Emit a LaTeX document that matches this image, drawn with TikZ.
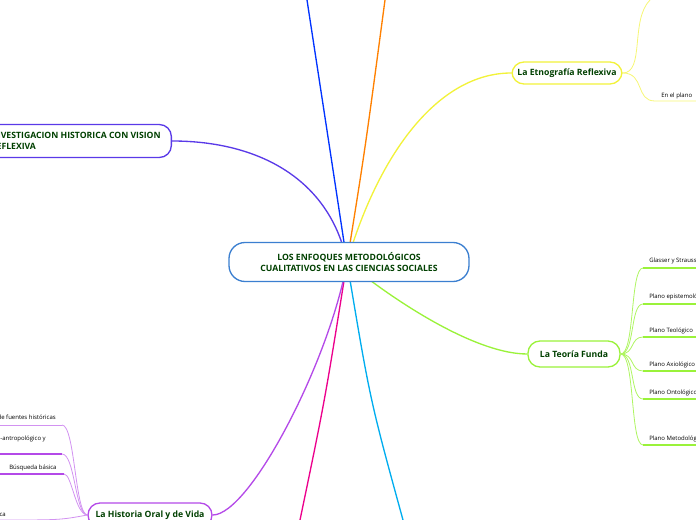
\documentclass[tikz,border=0pt]{standalone}
\usepackage{fontspec}
\setmainfont{Open Sans}
\begin{document}
\begin{tikzpicture}[x=0.75pt,y=-0.75pt,
 topic/.style={draw,rounded corners=9pt,line width=1pt,fill=white,text=green!25!black,font=\bfseries\fontsize{6.5}{8}\selectfont,align=left,inner sep=4pt},
 sub/.style={font=\fontsize{4.5}{5}\selectfont,anchor=base west,inner sep=0pt}]
\useasboundingbox (0,0) rectangle (696,520);
\clip (0,0) rectangle (696,520);
\definecolor{cblue}{HTML}{3B7FD0}
\definecolor{cyel}{HTML}{F2F23A}
\definecolor{cgrn}{HTML}{9AF23A}
\definecolor{cvio}{HTML}{B44AE8}
\definecolor{cind}{HTML}{5A3AE8}
\coordinate (c) at (347,262);
\coordinate (t1) at (307,0);
\coordinate (t2) at (385,0);
\coordinate (b1) at (300,520);
\coordinate (b2) at (403,520);
\draw[blue!80!cyan,line width=1pt] (c) .. controls (330,150) .. (t1);
\draw[orange,line width=1pt] (c) .. controls (365,150) .. (t2);
\draw[magenta,line width=1pt] (c) .. controls (325,400) .. (b1);
\draw[cyan,line width=1pt] (c) .. controls (370,400) .. (b2);
% Etnografia
\node[topic,draw=cyel,minimum width=110pt*0.75,minimum height=22pt*0.75] (etn) at (567,73) {La Etnografía Reflexiva};
\draw[cyel,line width=1pt] (c) .. controls (380,150) and (440,73) .. (etn.west);
\coordinate (e1) at (650,0);
\coordinate (e2) at (655,101);
\coordinate (e3) at (696,101);
\draw[cyel!70!white,line width=0.6pt] (etn.east) .. controls (645,73) and (630,20) .. (e1);
\draw[cyel!70!white,line width=0.6pt] (etn.east) .. controls (645,73) and (635,101) .. (e2) -- (e3);
\node[sub] (ep) at (661,98) {En el plano};
% Investigacion
\node[topic,draw=cind,minimum height=33pt*0.75,anchor=east,inner xsep=8pt] (inv) at (172,141) {INVESTIGACION HISTORICA CON VISION\\REFLEXIVA};
\draw[cind,line width=1pt] (c) .. controls (330,180) and (260,141) .. (inv.east);
% Teoria
\node[topic,draw=cgrn,minimum width=92pt*0.75,minimum height=26pt*0.75] (teo) at (574,354) {La Teoría Funda};
\draw[cgrn,line width=1pt] (c) .. controls (380,290) and (470,354) .. (teo.west);
\foreach \y/\t [count=\i] in {261/Glasser y Strauss,297/Plano epistemológico,330/Plano Teológico,364/Plano Axiológico,392/Plano Ontológico,438/Plano Metodológico}{
  \coordinate (ts\i) at (643,\y+7);
  \coordinate (te\i) at (696,\y+7);
  \draw[cgrn!80!white,line width=0.6pt] (teo.east) .. controls (635,354) and (630,\y+7) .. (ts\i);
  \draw[cgrn,line width=1pt] (ts\i) -- (te\i);
  \node[sub] (tn\i) at (649,\y+2) {\t};
}
% Historia oral
\node[topic,draw=cvio,minimum width=124pt*0.75,minimum height=24pt*0.75] (his) at (150,515) {La Historia Oral y de Vida};
\draw[cvio,line width=1pt] (c) .. controls (330,360) and (250,515) .. (his.east);
\coordinate (h1a) at (-5,425); \coordinate (h1) at (62,425);
\coordinate (h2a) at (-5,454); \coordinate (h2) at (62,454);
\coordinate (h3a) at (-5,474); \coordinate (h3) at (64,474);
\coordinate (h4) at (0,520);
\draw[cvio!60!white,line width=0.6pt] (his.west) .. controls (75,514) and (75,425) .. (h1);
\draw[cvio!60!white,line width=0.5pt] (h1) -- (h1a);
\draw[cvio!60!white,line width=0.6pt] (his.west) .. controls (75,514) and (75,454) .. (h2);
\draw[cvio,line width=1pt] (h2) -- (h2a);
\draw[cvio!60!white,line width=0.6pt] (his.west) .. controls (75,514) and (72,474) .. (h3);
\draw[cvio,line width=1pt] (h3) -- (h3a);
\draw[cvio!60!white,line width=0.6pt] (his.west) .. controls (60,520) .. (h4);
\node[sub,anchor=base east] (hn1) at (56,419) {de fuentes históricas};
\node[sub,anchor=base east] (hn2) at (46,440) {-antropológico y};
\node[sub] (hn3) at (9,469) {Búsqueda básica};
\node[sub,anchor=base east] (hn4) at (6,516) {ca};
% central
\node[topic,draw=cblue,align=center,minimum width=240pt*0.75,minimum height=39pt*0.75,rounded corners=12pt] (cen) at (349,262) {LOS ENFOQUES METODOLÓGICOS\\CUALITATIVOS EN LAS CIENCIAS SOCIALES};
\end{tikzpicture}
\end{document}
